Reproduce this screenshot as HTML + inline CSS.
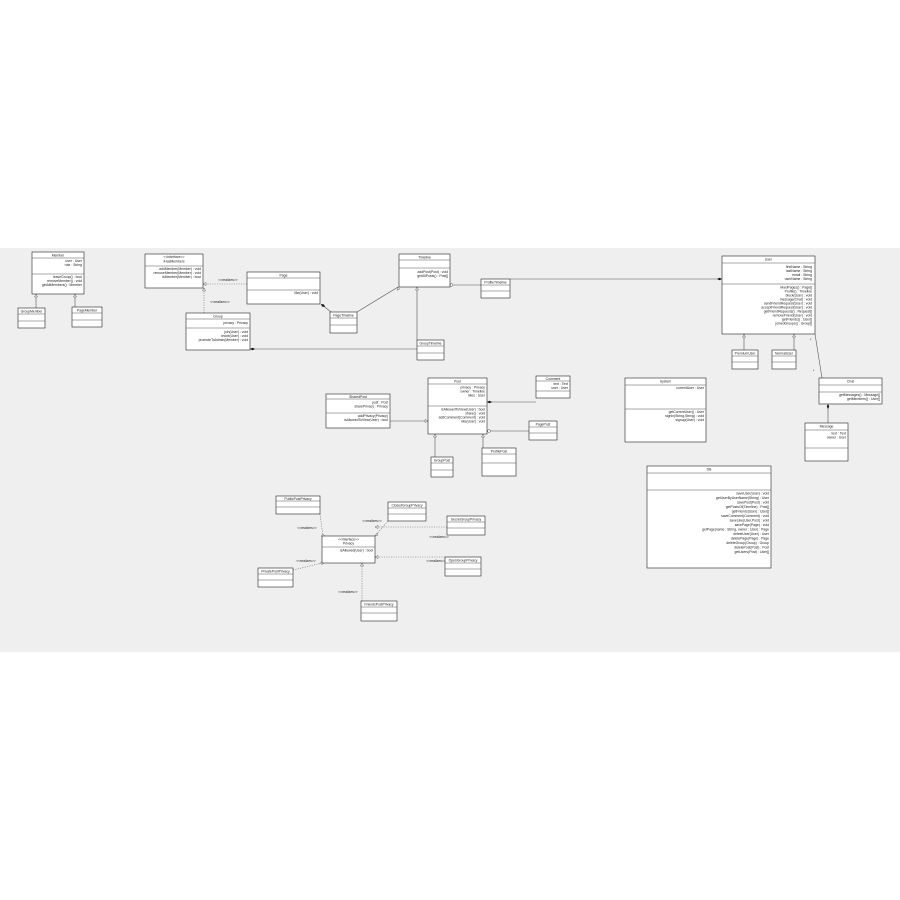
<!DOCTYPE html>
<html><head><meta charset="utf-8"><style>
html,body{margin:0;padding:0;background:#fff;}
svg{display:block}
text{font-family:"Liberation Sans",sans-serif;font-size:3.4px;fill:#222}
.b{fill:#fff;stroke:#222;stroke-width:0.6}
.s{fill:#444}
.l{stroke:#555;stroke-width:0.6;fill:none}
.d{stroke:#777;stroke-width:0.6;fill:none;stroke-dasharray:1.2,1.2}
.t{fill:#fff;stroke:#555;stroke-width:0.5}
.f{fill:#111}
</style></head><body>
<svg width="900" height="900" viewBox="0 0 900 900" xmlns="http://www.w3.org/2000/svg">
<rect x="0" y="248" width="900" height="404" fill="#efefef"/>

<!-- edges -->
<path class="l" d="M36 294V308M75 294V307"/>
<path class="t" d="M36 294l-1.5 3h3z M75 294l-1.5 3h3z"/>
<path class="d" d="M247 284H203M204 313V288"/>
<path class="t" d="M203 284l3-1.5v3z M204 288l-1.5 3h3z"/>
<text x="228" y="281" text-anchor="middle">&lt;&lt;realizes&gt;&gt;</text>
<text x="220" y="303" text-anchor="middle">&lt;&lt;realizes&gt;&gt;</text>
<path class="l" d="M321 304L331 312M357 312L398 287M417 340V287M417 349H250M481 285H450M510 279H722"/>
<path class="f" d="M321 304l3 0.5 1 2.5-3-0.5z M250 349l2.5-1.2 2.5 1.2-2.5 1.2z M722 279l-2.5-1.3-2.5 1.3 2.5 1.3z"/>
<path class="t" d="M398 287l-1 3.2 2.6-1.2z M417 287l-1.5 3h3z"/>
<circle cx="451.5" cy="285" r="1.4" fill="#fff" stroke="#555" stroke-width="0.5"/>
<path class="l" d="M744 334V350M794 334V350M815 334L822 378M828 404V423"/>
<path class="t" d="M744 334l-1.5 3h3z M794 334l-1.5 3h3z"/>
<path class="f" d="M828 404l-1.2 2.5 1.2 2.5 1.2-2.5z"/>
<text x="810" y="341">*</text><text x="813" y="372">*</text>
<path class="l" d="M536 402H487M529 431H487M483 448V434M435 457V434M390 421H428"/>
<path class="f" d="M487 402l2.5-1.3 2.5 1.3-2.5 1.3z"/>
<path class="t" d="M483 434l-1.5 3h3z M435 434l-1.5 3h3z M428 421l-3-1.5v3z"/>
<circle cx="489" cy="431" r="1.4" fill="#fff" stroke="#555" stroke-width="0.5"/>
<!-- privacy edges -->
<path class="d" d="M320 514L323 536M388 521L375 536M447 527H375M445 557H375M293 570L322 563M362 601V563"/>
<path class="t" d="M375 536l2 -3 1 2z M375 527l3-1.5v3z M375 557l3-1.5v3z M362 563l-1.5 3h3z"/>
<circle cx="323" cy="536" r="1.3" fill="#fff" stroke="#555" stroke-width="0.5"/>
<circle cx="322" cy="563" r="1.3" fill="#fff" stroke="#555" stroke-width="0.5"/>
<text x="307" y="529" text-anchor="middle">&lt;&lt;realizes&gt;&gt;</text>
<text x="372" y="522" text-anchor="middle">&lt;&lt;realizes&gt;&gt;</text>
<text x="439" y="538" text-anchor="middle">&lt;&lt;realizes&gt;&gt;</text>
<text x="436" y="562" text-anchor="middle">&lt;&lt;realizes&gt;&gt;</text>
<text x="306" y="562" text-anchor="middle">&lt;&lt;realizes&gt;&gt;</text>
<text x="348" y="593" text-anchor="middle">&lt;&lt;realizes&gt;&gt;</text>

<!-- boxes -->
<g>
<rect class="b" x="32" y="252" width="52" height="42"/><path class="l" d="M32 258H84M32 274H84"/>
<text x="58" y="256.5" text-anchor="middle">Member</text>
<text x="82" y="262" text-anchor="end">user : User</text><text x="82" y="266" text-anchor="end">role : String</text>
<text x="82" y="278" text-anchor="end">leaveGroup() : bool</text><text x="82" y="282" text-anchor="end">removeMember() : void</text><text x="82" y="286" text-anchor="end">getAllMembers() : Member</text>

<rect class="b" x="18" y="308" width="27" height="20"/><path class="l" d="M18 314H45M18 321H45"/><text x="31.5" y="312.5" text-anchor="middle">GroupMember</text>
<rect class="b" x="72" y="307" width="30" height="20"/><path class="l" d="M72 313H102M72 320H102"/><text x="87" y="311.5" text-anchor="middle">PageMember</text>

<rect class="b" x="145" y="254" width="58" height="34"/><path class="l" d="M145 266H203"/>
<text x="174" y="258" text-anchor="middle">&lt;&lt;interface&gt;&gt;</text><text x="174" y="262.5" text-anchor="middle">IHasMembers</text>
<text x="201" y="270" text-anchor="end">addMember(Member) : void</text><text x="201" y="274" text-anchor="end">removeMember(Member) : void</text><text x="201" y="278" text-anchor="end">isMember(Member) : bool</text>

<rect class="b" x="247" y="272" width="73" height="32"/><path class="l" d="M247 278H320M247 290H320"/>
<text x="283.5" y="276.5" text-anchor="middle">Page</text><text x="318" y="294" text-anchor="end">like(User) : void</text>

<rect class="b" x="186" y="313" width="64" height="37"/><path class="l" d="M186 319H250M186 328H250"/>
<text x="218" y="317.5" text-anchor="middle">Group</text><text x="248" y="324" text-anchor="end">privacy : Privacy</text>
<text x="248" y="333" text-anchor="end">join(User) : void</text><text x="248" y="337" text-anchor="end">leave(User) : void</text><text x="248" y="341" text-anchor="end">promoteToAdmin(Member) : void</text>

<rect class="b" x="330" y="312" width="27" height="21"/><path class="l" d="M330 318H357M330 325H357"/><text x="343.5" y="316.5" text-anchor="middle">PageTimeline</text>

<rect class="b" x="399" y="254" width="51" height="33"/><path class="l" d="M399 260H450M399 268H450"/>
<text x="424.5" y="258.5" text-anchor="middle">Timeline</text><text x="448" y="273" text-anchor="end">addPost(Post) : void</text><text x="448" y="277" text-anchor="end">getAllPosts() : Post[]</text>

<rect class="b" x="417" y="340" width="27" height="20"/><path class="l" d="M417 346H444M417 353H444"/><text x="430.5" y="344.5" text-anchor="middle">GroupTimeline</text>
<rect class="b" x="481" y="279" width="29" height="19"/><path class="l" d="M481 285H510M481 291H510"/><text x="495.5" y="283.5" text-anchor="middle">ProfileTimeline</text>

<rect class="b" x="722" y="256" width="93" height="78"/><path class="l" d="M722 263H815M722 284H815"/>
<text x="768.5" y="260.5" text-anchor="middle">User</text>
<text x="812" y="268" text-anchor="end">firstName : String</text><text x="812" y="272" text-anchor="end">lastName : String</text><text x="812" y="276" text-anchor="end">email : String</text><text x="812" y="280" text-anchor="end">userName : String</text>
<text x="812" y="288.5" text-anchor="end">likedPages() : Page[]</text><text x="812" y="292.5" text-anchor="end">Profile() : Timeline</text><text x="812" y="296.5" text-anchor="end">block(User) : void</text><text x="812" y="300.5" text-anchor="end">message(Chat) : void</text><text x="812" y="304.5" text-anchor="end">sendFriendRequest(User) : void</text><text x="812" y="308.5" text-anchor="end">acceptFriendRequest(User) : void</text><text x="812" y="312.5" text-anchor="end">getFriendRequests() : Request[]</text><text x="812" y="316.5" text-anchor="end">removeFriend(User) : void</text><text x="812" y="320.5" text-anchor="end">getFriends() : User[]</text><text x="812" y="324.5" text-anchor="end">joinedGroups() : Group[]</text>

<rect class="b" x="732" y="350" width="26" height="19"/><path class="l" d="M732 356H758M732 362H758"/><text x="745" y="354.5" text-anchor="middle">PremiumUser</text>
<rect class="b" x="772" y="350" width="24" height="19"/><path class="l" d="M772 356H796M772 362H796"/><text x="784" y="354.5" text-anchor="middle">NormalUser</text>

<rect class="b" x="819" y="378" width="63" height="26"/><path class="l" d="M819 385H882M819 392H882"/>
<text x="850.5" y="382.5" text-anchor="middle">Chat</text><text x="880" y="396" text-anchor="end">getMessages() : Message[]</text><text x="880" y="400" text-anchor="end">getMembers() : User[]</text>

<rect class="b" x="805" y="423" width="43" height="38"/><path class="l" d="M805 430H848M805 448H848"/>
<text x="826.5" y="427.5" text-anchor="middle">Message</text><text x="846" y="434.5" text-anchor="end">text : Text</text><text x="846" y="438.5" text-anchor="end">owner : User</text>

<rect class="b" x="625" y="378" width="81" height="64"/><path class="l" d="M625 385H706M625 409H706"/>
<text x="665.5" y="382.5" text-anchor="middle">System</text><text x="704" y="389" text-anchor="end">currentUser : User</text>
<text x="704" y="413" text-anchor="end">getCurrentUser() : User</text><text x="704" y="417" text-anchor="end">signin(String,String) : void</text><text x="704" y="421" text-anchor="end">signup(User) : void</text>

<rect class="b" x="647" y="466" width="124" height="102"/><path class="l" d="M647 473H771M647 490H771"/>
<text x="709" y="470.5" text-anchor="middle">DB</text>
<text x="769" y="494.5" text-anchor="end">saveUser(User) : void</text><text x="769" y="499" text-anchor="end">getUserByUserName(String) : User</text><text x="769" y="503.5" text-anchor="end">savePost(Post) : void</text><text x="769" y="508" text-anchor="end">getPostsOf(Timeline) : Post[]</text><text x="769" y="512.5" text-anchor="end">getFriends(User) : User[]</text><text x="769" y="517" text-anchor="end">saveComment(Comment) : void</text><text x="769" y="521.5" text-anchor="end">saveLike(User,Post) : void</text><text x="769" y="526" text-anchor="end">savePage(Page) : void</text><text x="769" y="530.5" text-anchor="end">getPage(name : String, owner : User) : Page</text><text x="769" y="535" text-anchor="end">deleteUser(User) : User</text><text x="769" y="539.5" text-anchor="end">deletePage(Page) : Page</text><text x="769" y="544" text-anchor="end">deleteGroup(Group) : Group</text><text x="769" y="548.5" text-anchor="end">deletePost(Post) : Post</text><text x="769" y="553" text-anchor="end">getUsers(Post) : User[]</text>

<rect class="b" x="428" y="378" width="59" height="56"/><path class="l" d="M428 384H487M428 406H487"/>
<text x="457.5" y="382.5" text-anchor="middle">Post</text>
<text x="485" y="388.5" text-anchor="end">privacy : Privacy</text><text x="485" y="392.5" text-anchor="end">owner : Timeline</text><text x="485" y="396.5" text-anchor="end">likes : User</text>
<text x="485" y="410.5" text-anchor="end">isAllowedToView(User) : bool</text><text x="485" y="414.5" text-anchor="end">share() : void</text><text x="485" y="418.5" text-anchor="end">addComment(Comment) : void</text><text x="485" y="422.5" text-anchor="end">like(User) : void</text>

<rect class="b" x="536" y="376" width="34" height="22"/><path class="l" d="M536 381H570M536 391H570"/>
<text x="553" y="380" text-anchor="middle">Comment</text><text x="568" y="385" text-anchor="end">text : Text</text><text x="568" y="389" text-anchor="end">user : User</text>
<rect class="b" x="529" y="421" width="28" height="19"/><path class="l" d="M529 427H557M529 433H557"/><text x="543" y="425.5" text-anchor="middle">PagePost</text>
<rect class="b" x="482" y="448" width="34" height="28"/><path class="l" d="M482 454H516M482 463H516"/><text x="499" y="452.5" text-anchor="middle">ProfilePost</text>
<rect class="b" x="431" y="457" width="22" height="20"/><path class="l" d="M431 463H453M431 470H453"/><text x="442" y="461.5" text-anchor="middle">GroupPost</text>

<rect class="b" x="326" y="394" width="64" height="34"/><path class="l" d="M326 399H390M326 413H390"/>
<text x="358" y="398" text-anchor="middle">SharedPost</text><text x="388" y="403.5" text-anchor="end">post : Post</text><text x="388" y="407.5" text-anchor="end">sharePrivacy : Privacy</text>
<text x="388" y="417" text-anchor="end">addPrivacy(Privacy)</text><text x="388" y="421" text-anchor="end">isAllowedToView(User) : bool</text>

<rect class="b" x="322" y="536" width="53" height="27"/><path class="l" d="M322 547H375"/>
<text x="348.5" y="540.5" text-anchor="middle">&lt;&lt;interface&gt;&gt;</text><text x="348.5" y="544.5" text-anchor="middle">Privacy</text><text x="373" y="551.5" text-anchor="end">isAllowed(User) : bool</text>

<rect class="b" x="276" y="496" width="44" height="18"/><path class="l" d="M276 501H320M276 507H320"/><text x="298" y="500" text-anchor="middle">PublicPostPrivacy</text>
<rect class="b" x="388" y="502" width="38" height="19"/><path class="l" d="M388 508H426M388 514H426"/><text x="407" y="506.5" text-anchor="middle">ClosedGroupPrivacy</text>
<rect class="b" x="447" y="516" width="38" height="19"/><path class="l" d="M447 522H485M447 528H485"/><text x="466" y="520.5" text-anchor="middle">SecretGroupPrivacy</text>
<rect class="b" x="445" y="557" width="36" height="19"/><path class="l" d="M445 563H481M445 569H481"/><text x="463" y="561.5" text-anchor="middle">OpenGroupPrivacy</text>
<rect class="b" x="258" y="568" width="35" height="19"/><path class="l" d="M258 574H293M258 580H293"/><text x="275.5" y="572.5" text-anchor="middle">PrivatePostPrivacy</text>
<rect class="b" x="361" y="601" width="36" height="20"/><path class="l" d="M361 607H397M361 613H397"/><text x="379" y="605.5" text-anchor="middle">FriendsPostPrivacy</text>
</g>
</svg>
</body></html>
